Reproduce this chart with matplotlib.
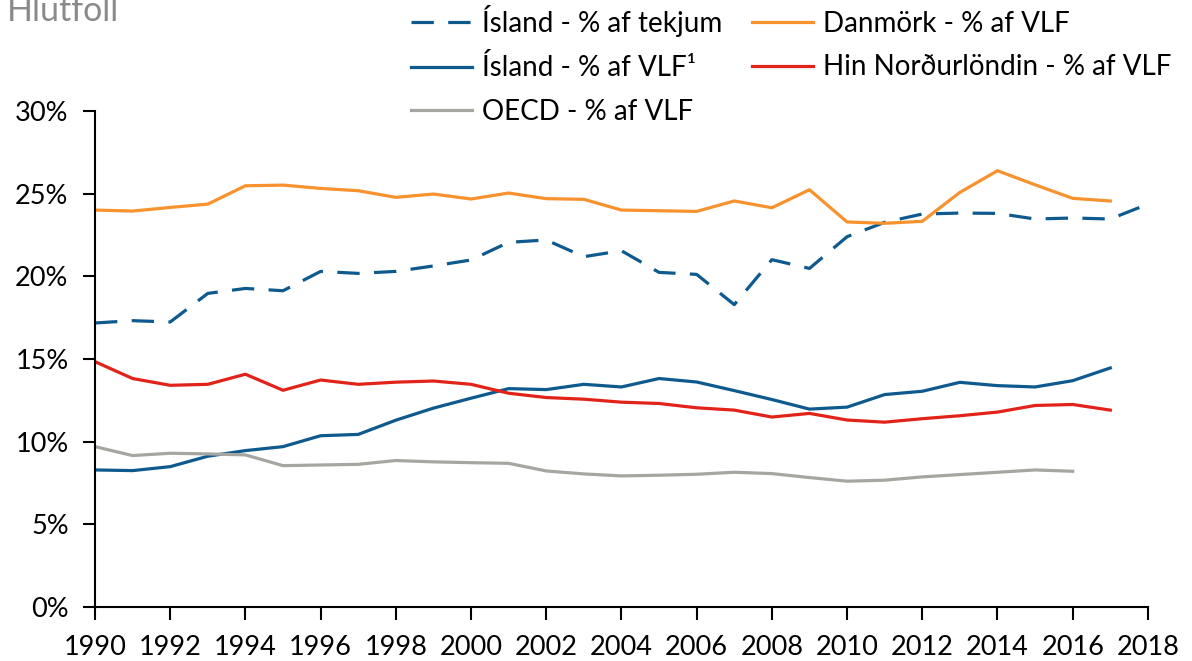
import matplotlib
matplotlib.use("Agg")
import matplotlib.pyplot as plt
from matplotlib.ticker import FuncFormatter

years = list(range(1990, 2019))

island_tekjum = [17.18, 17.32, 17.24, 18.97, 19.27, 19.13, 20.30, 20.18, 20.30, 20.63,
                 20.99, 22.06, 22.20, 21.19, 21.55, 20.24, 20.12, 18.29, 21.01, 20.48,
                 22.40, 23.27, 23.77, 23.83, 23.81, 23.47, 23.53, 23.47, 24.37]
island_vlf = [8.29, 8.25, 8.49, 9.12, 9.46, 9.70, 10.36, 10.44, 11.30, 12.03,
              12.63, 13.21, 13.15, 13.47, 13.31, 13.82, 13.61, 13.09, 12.55, 11.97,
              12.09, 12.85, 13.05, 13.59, 13.39, 13.31, 13.69, 14.46]
oecd_vlf = [9.70, 9.16, 9.30, 9.26, 9.20, 8.55, 8.59, 8.63, 8.86, 8.78,
            8.73, 8.69, 8.23, 8.05, 7.93, 7.97, 8.03, 8.15, 8.07, 7.83,
            7.61, 7.67, 7.87, 8.01, 8.15, 8.29, 8.21]
danmork_vlf = [24.01, 23.95, 24.17, 24.37, 25.48, 25.52, 25.32, 25.18, 24.78, 24.98,
               24.68, 25.04, 24.70, 24.66, 24.01, 23.97, 23.93, 24.56, 24.15, 25.24,
               23.29, 23.21, 23.33, 25.08, 26.39, 25.54, 24.72, 24.56]
nordurlond_vlf = [14.84, 13.82, 13.41, 13.47, 14.08, 13.11, 13.73, 13.47, 13.60, 13.67,
                  13.47, 12.93, 12.67, 12.57, 12.39, 12.31, 12.05, 11.91, 11.49, 11.71,
                  11.31, 11.18, 11.39, 11.57, 11.79, 12.19, 12.25, 11.91]

labels = ["Ísland - % af tekjum", "Ísland - % af VLF¹", "OECD - % af VLF",
          "Danmörk - % af VLF", "Hin Norðurlöndin - % af VLF"]

BLUE = "#0e5a8e"
ORANGE = "#f7922e"
RED = "#e2231a"
GRAY = "#a6a6a1"

plt.rcParams['font.family'] = ['Lato', 'DejaVu Sans']

fig = plt.figure(figsize=(11.92, 6.61), dpi=100)
ax = fig.add_axes([0.0797, 0.0817, 0.963 - 0.0797, 0.832 - 0.0817])

lw = 2.3
h1, = ax.plot(years[:len(island_tekjum)], island_tekjum, color=BLUE, lw=lw,
              dashes=(7, 4.5))
h2, = ax.plot(years[:len(island_vlf)], island_vlf, color=BLUE, lw=lw)
h3, = ax.plot(years[:len(oecd_vlf)], oecd_vlf, color=GRAY, lw=lw)
h4, = ax.plot(years[:len(danmork_vlf)], danmork_vlf, color=ORANGE, lw=lw)
h5, = ax.plot(years[:len(nordurlond_vlf)], nordurlond_vlf, color=RED, lw=lw)

ax.set_xlim(1990, 2018)
ax.set_ylim(0, 30)
ax.set_xticks(range(1990, 2019, 2))
ax.set_yticks(range(0, 31, 5))
ax.yaxis.set_major_formatter(FuncFormatter(lambda v, p: f"{int(v)}%"))

for s in ["top", "right"]:
    ax.spines[s].set_visible(False)
for s in ["left", "bottom"]:
    ax.spines[s].set_linewidth(1.5)
    ax.spines[s].set_color("black")
ax.spines["bottom"].set_zorder(0)

ax.tick_params(axis="both", direction="out", length=9, width=1.5,
               labelsize=19.5, colors="black", pad=10)
ax.tick_params(axis="x", pad=11)

fig.text(0.006, 0.968, "Hlutföll", fontsize=24.5, color="#8a8a8a",
         ha="left", va="baseline")

leg = fig.legend([h1, h2, h3, h4, h5], labels, ncol=2, loc="upper left",
                 bbox_to_anchor=(0.324, 1.03), frameon=False, fontsize=20,
                 handlelength=2.2, handletextpad=0.36, columnspacing=1.06,
                 labelspacing=0.62)

fig.savefig("out.png", dpi=100)
